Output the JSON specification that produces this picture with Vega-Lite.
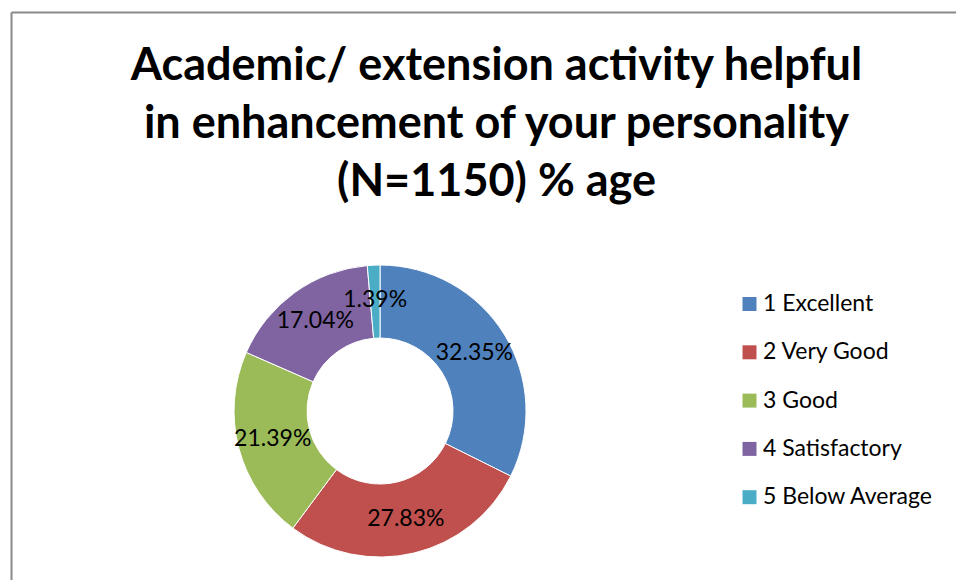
{
  "$schema": "https://vega.github.io/schema/vega-lite/v6.json",
  "width": 945,
  "height": 568,
  "autosize": {"type": "none"},
  "padding": {"left": 11, "top": 12, "right": 0, "bottom": 0},
  "background": "white",
  "title": {
    "text": ["Academic/ extension activity helpful", "in enhancement of your personality", "(N=1150) % age"],
    "font": "Lato",
    "fontWeight": "bold",
    "fontSize": 45,
    "lineHeight": 58,
    "color": "black",
    "anchor": "middle",
    "dx": 13,
    "offset": -193
  },
  "data": {
    "values": [
      {"order": 1, "rating": "1 Excellent", "share": 0.3235},
      {"order": 2, "rating": "2 Very Good", "share": 0.2783},
      {"order": 3, "rating": "3 Good", "share": 0.2139},
      {"order": 4, "rating": "4 Satisfactory", "share": 0.1704},
      {"order": 5, "rating": "5 Below Average", "share": 0.0139}
    ]
  },
  "encoding": {
    "theta": {"field": "share", "type": "quantitative", "stack": true},
    "order": {"field": "order", "type": "quantitative"},
    "x": {
      "datum": 0.3905,
      "type": "quantitative",
      "scale": {"domain": [0, 1], "nice": false, "zero": false},
      "axis": {"orient": "top", "domain": true, "domainColor": "#898989", "domainWidth": 2, "ticks": false, "labels": false, "grid": false, "title": null}
    },
    "y": {
      "datum": 0.7025,
      "type": "quantitative",
      "scale": {"domain": [0, 1], "nice": false, "zero": false, "reverse": true},
      "axis": {"orient": "left", "domain": true, "domainColor": "#898989", "domainWidth": 2, "ticks": false, "labels": false, "grid": false, "title": null}
    }
  },
  "layer": [
    {
      "mark": {"type": "arc", "outerRadius": 146, "innerRadius": 73, "stroke": "white", "strokeWidth": 1},
      "encoding": {
        "color": {
          "field": "rating",
          "type": "nominal",
          "scale": {
            "domain": ["1 Excellent", "2 Very Good", "3 Good", "4 Satisfactory", "5 Below Average"],
            "range": ["#4F81BD", "#C0504D", "#9BBB59", "#8064A2", "#4BACC6"]
          },
          "legend": {
            "orient": "none",
            "legendX": 727,
            "legendY": 280.5,
            "title": null,
            "symbolType": "square",
            "symbolSize": 196,
            "symbolStrokeWidth": 0,
            "labelFont": "Lato",
            "labelFontSize": 23,
            "labelColor": "black",
            "labelLimit": 300,
            "labelOffset": 2,
            "rowPadding": 24.3,
            "padding": 0
          }
        }
      }
    },
    {
      "mark": {"type": "text", "radius": 111, "font": "Lato", "fontSize": 23, "color": "black"},
      "encoding": {
        "text": {"field": "share", "type": "quantitative", "format": ".2%"}
      }
    }
  ],
  "config": {"view": {"stroke": null}}
}
